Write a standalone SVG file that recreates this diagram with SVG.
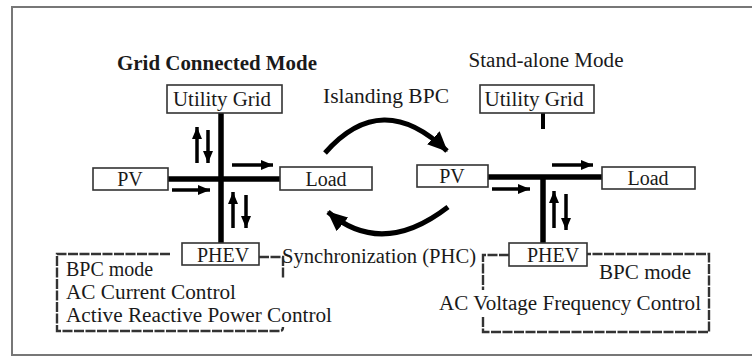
<svg xmlns="http://www.w3.org/2000/svg" width="752" height="358" viewBox="0 0 752 358">
<defs>
<style>
text{font-family:"Liberation Serif","Times New Roman",serif;font-size:20px;fill:#1a1a1a}
.b{font-weight:bold}
.box{fill:#fff;stroke:#333;stroke-width:1.6}
.thick{stroke:#000;stroke-width:5.5;fill:none}
.arr{stroke:#000;stroke-width:3.5;fill:none;marker-end:url(#ah)}
.big{stroke:#000;stroke-width:5;fill:none;marker-end:url(#bh)}
.dash{stroke:#333;stroke-width:2.4;fill:none;stroke-dasharray:10 1.5}
</style>
<marker id="ah" markerUnits="userSpaceOnUse" markerWidth="12" markerHeight="10" refX="12" refY="5" orient="auto"><path d="M0,0 L12,5 L0,10 z" fill="#000"/></marker>
<marker id="bh" markerUnits="userSpaceOnUse" markerWidth="20" markerHeight="18" refX="19" refY="9" orient="auto"><path d="M0,0 L20,9 L0,18 z" fill="#000"/></marker>
</defs>
<path d="M760,7 H12 V355 H760" fill="none" stroke="#777" stroke-width="2"/>

<text class="b" x="217" y="70" text-anchor="middle" textLength="200" lengthAdjust="spacingAndGlyphs">Grid Connected Mode</text>
<text x="386" y="103" text-anchor="middle" textLength="126" lengthAdjust="spacingAndGlyphs">Islanding BPC</text>
<text x="546" y="67" text-anchor="middle" textLength="155" lengthAdjust="spacingAndGlyphs">Stand-alone Mode</text>

<g id="connectors">
<line class="thick" x1="221" y1="113" x2="221" y2="243"/>
<line class="thick" x1="168" y1="179" x2="280" y2="179"/>
<line class="thick" x1="543" y1="113" x2="543" y2="129" style="stroke-width:4"/>
<line class="thick" x1="488" y1="177" x2="602" y2="177"/>
<line class="thick" x1="543" y1="177" x2="543" y2="243"/>
<line class="arr" x1="232" y1="165" x2="273" y2="165"/>
<line class="arr" x1="172" y1="190" x2="210" y2="190"/>
<line class="arr" x1="197" y1="163" x2="197" y2="127"/>
<line class="arr" x1="208" y1="130" x2="208" y2="163"/>
<line class="arr" x1="233" y1="228" x2="233" y2="192"/>
<line class="arr" x1="246" y1="195" x2="246" y2="228"/>
<line class="arr" x1="552" y1="165" x2="593" y2="165"/>
<line class="arr" x1="492" y1="189" x2="530" y2="189"/>
<line class="arr" x1="554" y1="228" x2="554" y2="191"/>
<line class="arr" x1="566" y1="194" x2="566" y2="230"/>
<path class="big" d="M325,153 Q382,88 447,151"/>
<path class="big" d="M448,207 Q382,258 328,212"/>
<path class="dash" d="M170,254 H57 V331 H280 Q283,331 283,327"/>
<path class="dash" d="M259,257 H283 V279"/>
<path class="dash" d="M509,255 H483 V290"/>
<path class="dash" d="M483,317 V332 H709 V254 H587"/>
</g>

<g id="utility-grid-left"><rect class="box" x="167" y="85" width="115" height="28"/><text x="222" y="106" text-anchor="middle" textLength="98" lengthAdjust="spacingAndGlyphs">Utility Grid</text></g>
<g id="pv-left"><rect class="box" x="93" y="168" width="75" height="22"/><text x="130" y="186" text-anchor="middle">PV</text></g>
<g id="load-left"><rect class="box" x="280" y="167" width="92" height="23"/><text x="326" y="186" text-anchor="middle">Load</text></g>
<g id="phev-left"><rect class="box" x="182" y="243" width="77" height="22"/><text x="223" y="262" text-anchor="middle">PHEV</text></g>
<g id="utility-grid-right"><rect class="box" x="480" y="85" width="114" height="28"/><text x="534" y="106" text-anchor="middle" textLength="99" lengthAdjust="spacingAndGlyphs">Utility Grid</text></g>
<g id="pv-right"><rect class="box" x="417" y="165" width="71" height="22"/><text x="452" y="183" text-anchor="middle">PV</text></g>
<g id="load-right"><rect class="box" x="602" y="167" width="93" height="22"/><text x="648" y="185" text-anchor="middle">Load</text></g>
<g id="phev-right"><rect class="box" x="509" y="243" width="78" height="23"/><text x="553" y="262" text-anchor="middle">PHEV</text></g>

<g id="labels">
<text x="282" y="263" textLength="194" lengthAdjust="spacingAndGlyphs">Synchronization (PHC)</text>
<text x="66" y="276">BPC mode</text>
<text x="66" y="299" textLength="170" lengthAdjust="spacingAndGlyphs">AC Current Control</text>
<text x="66" y="322" textLength="266" lengthAdjust="spacingAndGlyphs">Active Reactive Power Control</text>
<text x="599" y="279" textLength="92" lengthAdjust="spacingAndGlyphs">BPC mode</text>
<text x="439" y="310" textLength="262" lengthAdjust="spacingAndGlyphs">AC Voltage Frequency Control</text>
</g>
</svg>
